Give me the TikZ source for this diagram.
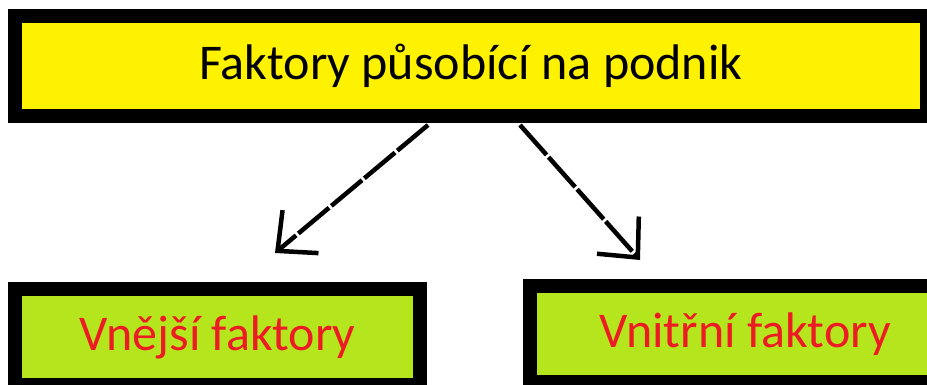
\documentclass[tikz,border=0pt]{standalone}
\usepackage{fontspec}
\setmainfont{Carlito}
\usepackage{tikz}
\usetikzlibrary{arrows.meta, positioning}
\definecolor{paintyellow}{HTML}{FFF200}
\definecolor{paintlime}{HTML}{B5E61D}
\definecolor{paintred}{HTML}{ED1C24}
\tikzset{
  box/.style={draw=black, line width=14pt, inner sep=0pt, font=\fontsize{50}{60}\selectfont},
  flow/.style={line width=4.5pt, dash pattern=on 40pt off 3pt, -{Straight Barb[length=30pt, width=56pt, line width=4.5pt]}}
}

\begin{document}
\begin{tikzpicture}[x=1pt, y=-1pt]
        \useasboundingbox (0,0) rectangle (927,385);
        % Nodes
        \node[box, fill=paintyellow, minimum width=912pt, minimum height=100pt] (top) at (471, 66) {Faktory působící na podnik};
        \node[box, fill=paintlime, text=paintred, minimum width=405pt, minimum height=96pt] (ext) at (217.5, 337) {Vnější faktory};
        \node[box, fill=paintlime, text=paintred, minimum width=430pt, minimum height=96pt] (int) at (745, 334) {Vnitřní faktory};
        \coordinate (tipL) at (275, 253);
        \coordinate (tipR) at (640, 260);

        % Arrows
        \draw[flow] ([xshift=-43pt, yshift=-2pt]top.south) -- (tipL);
        \draw[flow] ([xshift=49pt, yshift=-2pt]top.south) -- (tipR);
    \end{tikzpicture}
\end{document}
